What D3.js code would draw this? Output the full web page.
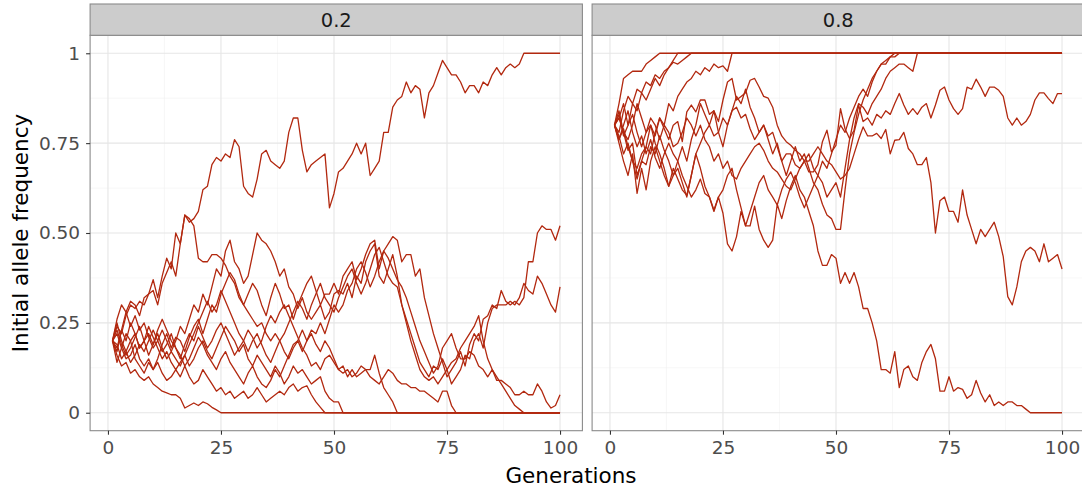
<!DOCTYPE html>
<html>
<head>
<meta charset="utf-8">
<script src="https://cdn.jsdelivr.net/npm/d3@7"></script>
<style>
  body { margin: 0; background: #ffffff; }
  text { font-family: "DejaVu Sans", sans-serif; }
</style>
</head>
<body>
<div id="chart"></div>
<script>
// Facet labels (initial allele frequency) and axis ticks
var facetLabels = ["0.2", "0.8"];
var xTicks = [0, 25, 50, 75, 100];
var xMinor = [12.5, 37.5, 62.5, 87.5];
var yTicks = [0, 0.25, 0.5, 0.75, 1];
var yTickLabels = ["0", "0.25", "0.50", "0.75", "1"];
var yMinor = [0.125, 0.375, 0.625, 0.875];

// Drift runs starting at 0.2, each point is [generation, frequency]
var run02a = [[1,.2],[2,.24],[3,.22],[4,.27],[5,.3],[6,.29],[7,.31],[8,.3],[9,.33],[10,.37],[11,.32],[12,.38],[13,.43],[14,.4],[15,.5],[16,.47],[17,.55],[18,.53],[19,.54],[20,.56],[21,.62],[22,.63],[23,.69],[24,.71],[25,.7],[26,.72],[27,.71],[28,.76],[29,.74],[30,.63],[31,.61],[32,.6],[33,.65],[34,.72],[35,.73],[36,.7],[37,.69],[38,.68],[39,.7],[40,.78],[41,.82],[42,.82],[43,.73],[44,.67],[45,.69],[46,.7],[47,.71],[48,.72],[49,.57],[50,.61],[51,.67],[52,.68],[53,.7],[54,.72],[55,.75],[56,.72],[57,.75],[58,.66],[59,.68],[60,.7],[61,.78],[62,.78],[63,.85],[64,.87],[65,.88],[66,.92],[67,.89],[68,.91],[69,.9],[70,.82],[71,.89],[72,.91],[73,.945],[74,.98],[75,.96],[76,.94],[77,.94],[78,.92],[79,.89],[80,.91],[81,.91],[82,.89],[83,.92],[84,.91],[85,.94],[86,.96],[87,.94],[88,.96],[89,.97],[90,.96],[91,.97],[92,1],[100,1]];
var run02b = [[1,.2],[2,.17],[3,.23],[4,.28],[5,.31],[6,.3],[7,.27],[8,.32],[9,.33],[10,.34],[11,.3],[12,.36],[13,.39],[14,.42],[15,.38],[16,.47],[17,.55],[18,.54],[19,.52],[20,.43],[21,.42],[22,.42],[23,.44],[24,.44],[25,.43],[26,.41],[27,.38],[28,.36],[29,.32],[30,.3],[31,.33],[32,.36],[33,.34],[34,.3],[35,.27],[36,.32],[37,.36],[38,.33],[39,.29],[40,.3],[41,.26],[42,.3],[43,.33],[44,.36],[45,.38],[46,.34],[47,.3],[48,.33],[49,.33],[50,.36],[51,.33],[52,.38],[53,.4],[54,.42],[55,.37],[56,.4],[57,.44],[58,.47],[59,.48],[60,.4],[61,.45],[62,.47],[63,.49],[64,.48],[65,.42],[66,.44],[67,.44],[68,.38],[69,.4],[70,.32],[71,.27],[72,.22],[73,.18],[74,.14],[75,.1],[76,.12],[77,.14],[78,.17],[79,.13],[80,.19],[81,.22],[82,.2],[83,.26],[84,.27],[85,.3],[86,.29],[87,.34],[88,.31],[89,.3],[90,.31],[91,.3],[92,.32],[93,.42],[94,.42],[95,.5],[96,.52],[97,.51],[98,.51],[99,.48],[100,.52]];
var run02c = [[1,.2],[2,.25],[3,.2],[4,.17],[5,.2],[6,.22],[7,.18],[8,.2],[9,.16],[10,.19],[11,.22],[12,.18],[13,.15],[14,.17],[15,.2],[16,.24],[17,.22],[18,.26],[19,.3],[20,.28],[21,.33],[22,.3],[23,.35],[24,.4],[25,.38],[26,.45],[27,.48],[28,.42],[29,.4],[30,.36],[31,.38],[32,.44],[33,.5],[34,.48],[35,.47],[36,.45],[37,.42],[38,.38],[39,.4],[40,.35],[41,.33],[42,.29],[43,.32],[44,.28],[45,.26],[46,.28],[47,.3],[48,.26],[49,.28],[50,.33],[51,.34],[52,.33],[53,.36],[54,.32],[55,.38],[56,.36],[57,.42],[58,.45],[59,.47],[60,.38],[61,.36],[62,.4],[63,.44],[64,.38],[65,.3],[66,.26],[67,.22],[68,.18],[69,.14],[70,.12],[71,.1],[72,.13],[73,.12],[74,.15],[75,.12],[76,.08],[77,.1],[78,.12],[79,.16],[80,.15],[81,.2],[82,.22],[83,.18],[84,.25],[85,.29],[86,.3],[87,.3],[88,.3],[89,.31],[90,.3],[91,.32],[92,.36],[93,.34],[94,.33],[95,.38],[96,.36],[97,.33],[98,.3],[99,.28],[100,.35]];
var run02d = [[1,.2],[2,.14],[3,.18],[4,.22],[5,.2],[6,.15],[7,.13],[8,.11],[9,.14],[10,.12],[11,.15],[12,.19],[13,.22],[14,.18],[15,.21],[16,.2],[17,.17],[18,.21],[19,.24],[20,.26],[21,.22],[22,.26],[23,.3],[24,.28],[25,.33],[26,.36],[27,.39],[28,.37],[29,.33],[30,.3],[31,.28],[32,.26],[33,.24],[34,.25],[35,.22],[36,.2],[37,.22],[38,.2],[39,.17],[40,.15],[41,.18],[42,.2],[43,.17],[44,.2],[45,.23],[46,.22],[47,.25],[48,.22],[49,.26],[50,.3],[51,.28],[52,.3],[53,.34],[54,.36],[55,.4],[56,.42],[57,.39],[58,.35],[59,.38],[60,.42],[61,.45],[62,.43],[63,.4],[64,.37],[65,.35],[66,.32],[67,.28],[68,.24],[69,.2],[70,.17],[71,.14],[72,.11],[73,.13],[74,.18],[75,.2],[76,.22],[77,.18],[78,.15],[79,.15],[80,.17],[81,.16],[82,.13],[83,.12],[84,.1],[85,.12],[86,.09],[87,.09],[88,.08],[89,.07],[90,.05],[91,.05],[92,.06],[93,.05],[94,.05],[95,.08],[96,.06],[97,.03],[98,.013],[99,.02],[100,.05]];
var run02e = [[1,.2],[2,.16],[3,.13],[4,.14],[5,.11],[6,.12],[7,.1],[8,.09],[9,.1],[10,.08],[11,.07],[12,.06],[13,.055],[14,.05],[15,.05],[16,.04],[17,.013],[18,.02],[19,.027],[20,.02],[21,.03],[22,.025],[23,.015],[24,.008],[25,0],[100,0]];
var run02f = [[1,.2],[2,.22],[3,.18],[4,.15],[5,.16],[6,.19],[7,.15],[8,.13],[9,.15],[10,.12],[11,.14],[12,.11],[13,.09],[14,.1],[15,.12],[16,.1],[17,.13],[18,.1],[19,.08],[20,.09],[21,.12],[22,.1],[23,.08],[24,.06],[25,.07],[26,.05],[27,.06],[28,.04],[29,.05],[30,.06],[31,.04],[32,.05],[33,.07],[34,.05],[35,.03],[36,.04],[37,.05],[38,.06],[39,.05],[40,.07],[41,.08],[42,.06],[43,.07],[44,.075],[45,.05],[46,.03],[47,.015],[48,0],[100,0]];
var run02g = [[1,.2],[2,.18],[3,.23],[4,.2],[5,.25],[6,.22],[7,.18],[8,.2],[9,.24],[10,.21],[11,.18],[12,.15],[13,.17],[14,.14],[15,.12],[16,.14],[17,.16],[18,.13],[19,.15],[20,.18],[21,.2],[22,.17],[23,.15],[24,.18],[25,.21],[26,.24],[27,.22],[28,.2],[29,.17],[30,.19],[31,.15],[32,.13],[33,.16],[34,.14],[35,.12],[36,.1],[37,.13],[38,.11],[39,.08],[40,.1],[41,.13],[42,.11],[43,.12],[44,.1],[45,.08],[46,.09],[47,.1],[48,.06],[49,.04],[50,.03],[51,.03],[52,0],[100,0]];
var run02h = [[1,.2],[2,.23],[3,.19],[4,.16],[5,.18],[6,.21],[7,.24],[8,.2],[9,.22],[10,.19],[11,.23],[12,.26],[13,.23],[14,.2],[15,.18],[16,.15],[17,.19],[18,.22],[19,.2],[20,.24],[21,.21],[22,.18],[23,.2],[24,.23],[25,.25],[26,.22],[27,.19],[28,.16],[29,.18],[30,.2],[31,.23],[32,.21],[33,.18],[34,.2],[35,.24],[36,.27],[37,.25],[38,.28],[39,.3],[40,.27],[41,.24],[42,.21],[43,.18],[44,.16],[45,.13],[46,.14],[47,.12],[48,.15],[49,.16],[50,.14],[51,.12],[52,.13],[53,.1],[54,.12],[55,.1],[56,.11],[57,.12],[58,.12],[59,.16],[60,.11],[61,.07],[62,.05],[63,.03],[64,0],[100,0]];
var run02i = [[1,.2],[2,.19],[3,.15],[4,.17],[5,.14],[6,.16],[7,.19],[8,.17],[9,.2],[10,.23],[11,.2],[12,.17],[13,.19],[14,.22],[15,.18],[16,.16],[17,.13],[18,.15],[19,.18],[20,.21],[21,.19],[22,.16],[23,.14],[24,.12],[25,.15],[26,.17],[27,.14],[28,.12],[29,.1],[30,.08],[31,.11],[32,.13],[33,.1],[34,.08],[35,.07],[36,.09],[37,.12],[38,.1],[39,.13],[40,.16],[41,.19],[42,.2],[43,.23],[44,.2],[45,.22],[46,.19],[47,.17],[48,.2],[49,.18],[50,.15],[51,.12],[52,.11],[53,.12],[54,.1],[55,.11],[56,.13],[57,.12],[58,.1],[59,.09],[60,.08],[61,.1],[62,.12],[63,.11],[64,.09],[65,.08],[66,.08],[67,.07],[68,.07],[69,.06],[70,.06],[71,.05],[72,.04],[73,.03],[74,.06],[75,.06],[76,.02],[77,0],[100,0]];
var run02j = [[1,.2],[2,.26],[3,.3],[4,.28],[5,.24],[6,.27],[7,.23],[8,.25],[9,.21],[10,.18],[11,.2],[12,.23],[13,.2],[14,.17],[15,.15],[16,.13],[17,.16],[18,.19],[19,.22],[20,.25],[21,.28],[22,.31],[23,.28],[24,.3],[25,.34],[26,.31],[27,.28],[28,.25],[29,.22],[30,.2],[31,.17],[32,.2],[33,.22],[34,.19],[35,.16],[36,.14],[37,.17],[38,.2],[39,.22],[40,.25],[41,.28],[42,.31],[43,.29],[44,.26],[45,.3],[46,.33],[47,.36],[48,.32],[49,.3],[50,.28],[51,.32],[52,.35],[53,.38],[54,.4],[55,.36],[56,.33],[57,.36],[58,.4],[59,.44],[60,.46],[61,.42],[62,.38],[63,.36],[64,.35],[65,.3],[66,.25],[67,.2],[68,.16],[69,.12],[70,.1],[71,.09],[72,.1],[73,.08],[74,.1],[75,.12],[76,.14],[77,.15],[78,.18],[79,.2],[80,.22],[81,.24],[82,.27],[83,.2],[84,.15],[85,.12],[86,.1],[87,.08],[88,.06],[89,.04],[90,.02],[91,.01],[92,0],[100,0]];

// Drift runs starting at 0.8
var run08a = [[1,.8],[2,.86],[3,.93],[4,.94],[5,.95],[6,.95],[7,.95],[8,.97],[9,.98],[10,.99],[11,1],[100,1]];
var run08b = [[1,.8],[2,.78],[3,.84],[4,.88],[5,.86],[6,.9],[7,.89],[8,.92],[9,.91],[10,.94],[11,.93],[12,.95],[13,.96],[14,.98],[15,1],[100,1]];
var run08c = [[1,.8],[2,.83],[3,.77],[4,.8],[5,.86],[6,.84],[7,.89],[8,.87],[9,.9],[10,.93],[11,.91],[12,.94],[13,.96],[14,.975],[15,.97],[16,.98],[17,.99],[18,1],[100,1]];
var run08d = [[1,.8],[2,.76],[3,.79],[4,.74],[5,.7],[6,.65],[7,.7],[8,.74],[9,.72],[10,.78],[11,.82],[12,.8],[13,.86],[14,.84],[15,.88],[16,.9],[17,.92],[18,.93],[19,.95],[20,.94],[21,.96],[22,.95],[23,.97],[24,.96],[25,.965],[26,.95],[27,1],[100,1]];
var run08e = [[1,.8],[2,.77],[3,.72],[4,.75],[5,.7],[6,.68],[7,.72],[8,.74],[9,.8],[10,.77],[11,.82],[12,.79],[13,.76],[14,.8],[15,.81],[16,.754],[17,.837],[18,.856],[19,.837],[20,.87],[21,.87],[22,.83],[23,.84],[24,.81],[25,.87],[26,.92],[27,.93],[28,.87],[29,.88],[30,.89],[31,.925],[32,.93],[33,.906],[34,.88],[35,.875],[36,.85],[37,.8],[38,.77],[39,.754],[40,.744],[41,.73],[42,.72],[43,.7],[44,.67],[45,.67],[46,.69],[47,.754],[48,.786],[49,.726],[50,.744],[51,.846],[52,.79],[53,.763],[54,.786],[55,.856],[56,.81],[57,.82],[58,.8],[59,.83],[60,.82],[61,.84],[62,.83],[63,.86],[64,.888],[65,.856],[66,.83],[67,.846],[68,.83],[69,.85],[70,.86],[71,.82],[72,.856],[73,.897],[74,.906],[75,.87],[76,.846],[77,.83],[78,.846],[79,.906],[80,.9],[81,.928],[82,.906],[83,.88],[84,.906],[85,.906],[86,.897],[87,.88],[88,.82],[89,.8],[90,.82],[91,.8],[92,.81],[93,.83],[94,.87],[95,.89],[96,.89],[97,.874],[98,.86],[99,.888],[100,.888]];
var run08f = [[1,.8],[2,.82],[3,.78],[4,.73],[5,.75],[6,.66],[7,.7],[8,.69],[9,.74],[10,.72],[11,.77],[12,.73],[13,.7],[14,.66],[15,.68],[16,.64],[17,.6],[18,.66],[19,.72],[20,.75],[21,.78],[22,.8],[23,.77],[24,.78],[25,.82],[26,.8],[27,.84],[28,.85],[29,.82],[30,.83],[31,.79],[32,.76],[33,.78],[34,.8],[35,.77],[36,.78],[37,.74],[38,.7],[39,.72],[40,.72],[41,.69],[42,.68],[43,.7],[44,.7],[45,.72],[46,.74],[47,.72],[48,.7],[49,.69],[50,.67],[51,.65],[52,.66],[53,.68],[54,.72],[55,.76],[56,.795],[57,.77],[58,.77],[59,.777],[60,.763],[61,.788],[62,.72],[63,.758],[64,.76],[65,.78],[66,.735],[67,.72],[68,.69],[69,.69],[70,.71],[71,.64],[72,.5],[73,.59],[74,.6],[75,.56],[76,.56],[77,.53],[78,.62],[79,.55],[80,.51],[81,.47],[82,.51],[83,.49],[84,.51],[85,.53],[86,.49],[87,.434],[88,.323],[89,.3],[90,.35],[91,.42],[92,.45],[93,.46],[94,.45],[95,.42],[96,.47],[97,.42],[98,.43],[99,.44],[100,.4]];
var run08g = [[1,.8],[2,.75],[3,.7],[4,.66],[5,.72],[6,.61],[7,.68],[8,.62],[9,.7],[10,.74],[11,.7],[12,.66],[13,.63],[14,.68],[15,.65],[16,.62],[17,.605],[18,.66],[19,.72],[20,.68],[21,.63],[22,.6],[23,.56],[24,.6],[25,.555],[26,.47],[27,.45],[28,.49],[29,.56],[30,.52],[31,.52],[32,.575],[33,.51],[34,.48],[35,.46],[36,.48],[37,.58],[38,.54],[39,.59],[40,.63],[41,.66],[42,.62],[43,.6],[44,.56],[45,.52],[46,.45],[47,.41],[48,.41],[49,.44],[50,.43],[51,.36],[52,.39],[53,.36],[54,.39],[55,.35],[56,.29],[57,.29],[58,.25],[59,.2],[60,.12],[61,.12],[62,.11],[63,.17],[64,.07],[65,.12],[66,.13],[67,.1],[68,.09],[69,.14],[70,.17],[71,.19],[72,.15],[73,.06],[74,.06],[75,.1],[76,.06],[77,.07],[78,.065],[79,.04],[80,.05],[81,.09],[82,.055],[83,.03],[84,.05],[85,.02],[86,.03],[87,.02],[88,.03],[89,.03],[90,.02],[91,.02],[92,.01],[93,0],[100,0]];
var run08h = [[1,.8],[2,.84],[3,.78],[4,.76],[5,.8],[6,.86],[7,.82],[8,.78],[9,.8],[10,.75],[11,.72],[12,.68],[13,.63],[14,.66],[15,.7],[16,.74],[17,.7],[18,.76],[19,.8],[20,.86],[21,.83],[22,.8],[23,.84],[24,.78],[25,.74],[26,.8],[27,.84],[28,.88],[29,.86],[30,.9],[31,.85],[32,.82],[33,.78],[34,.8],[35,.76],[36,.72],[37,.75],[38,.7],[39,.66],[40,.7],[41,.74],[42,.7],[43,.72],[44,.68],[45,.64],[46,.62],[47,.58],[48,.55],[49,.54],[50,.51],[51,.51],[52,.62],[53,.72],[54,.78],[55,.83],[56,.87],[57,.9],[58,.93],[59,.95],[60,.97],[61,.97],[62,.99],[63,1],[100,1]];
var run08i = [[1,.8],[2,.76],[3,.8],[4,.84],[5,.78],[6,.74],[7,.77],[8,.72],[9,.76],[10,.71],[11,.68],[12,.72],[13,.75],[14,.72],[15,.7],[16,.66],[17,.63],[18,.6],[19,.62],[20,.65],[21,.61],[22,.6],[23,.564],[24,.6],[25,.62],[26,.66],[27,.68],[28,.62],[29,.57],[30,.52],[31,.56],[32,.6],[33,.64],[34,.66],[35,.62],[36,.6],[37,.578],[38,.62],[39,.65],[40,.67],[41,.64],[42,.6],[43,.57],[44,.6],[45,.63],[46,.66],[47,.7],[48,.68],[49,.72],[50,.76],[51,.8],[52,.78],[53,.82],[54,.85],[55,.88],[56,.9],[57,.88],[58,.92],[59,.95],[60,.97],[61,.98],[62,.99],[63,.99],[64,1],[100,1]];
var run08j = [[1,.8],[2,.82],[3,.86],[4,.8],[5,.83],[6,.78],[7,.74],[8,.78],[9,.82],[10,.8],[11,.76],[12,.8],[13,.78],[14,.74],[15,.75],[16,.78],[17,.82],[18,.8],[19,.77],[20,.8],[21,.76],[22,.74],[23,.7],[24,.72],[25,.68],[26,.7],[27,.66],[28,.65],[29,.68],[30,.7],[31,.72],[32,.74],[33,.75],[34,.73],[35,.7],[36,.68],[37,.67],[38,.65],[39,.63],[40,.62],[41,.65],[42,.68],[43,.7],[44,.72],[45,.68],[46,.66],[47,.64],[48,.6],[49,.62],[50,.64],[51,.6],[52,.68],[53,.76],[54,.82],[55,.86],[56,.85],[57,.83],[58,.86],[59,.88],[60,.9],[61,.93],[62,.95],[63,.96],[64,.97],[65,.97],[66,.96],[67,.95],[68,1],[100,1]];

var runs02 = [run02a, run02b, run02c, run02d, run02e, run02f, run02g, run02h, run02i, run02j];
var runs08 = [run08a, run08b, run08c, run08d, run08e, run08f, run08g, run08h, run08i, run08j];
var facetRuns = [runs02, runs08];

// SVG area and panel geometry
var svgWidth = 1082;
var svgHeight = 491;
var stripTop = 4;
var panelTop = 35.3;
var panelHeight = 395.4;
var panelWidth = 492.3;
var panelLefts = [90.1, 592.1];
var lineColor = "#b2280f";

var svg = d3.select("#chart")
    .append("svg")
    .attr("width", svgWidth)
    .attr("height", svgHeight)
    .style("display", "block");

svg.append("rect")
    .attr("width", svgWidth)
    .attr("height", svgHeight)
    .attr("fill", "#ffffff");

// Scales (ggplot style 5% expansion around 1..100 and 0..1)
var xScale = d3.scaleLinear()
    .domain([1 - 4.95, 100 + 4.95])
    .range([0, panelWidth]);

var yScale = d3.scaleLinear()
    .domain([-0.05, 1.05])
    .range([panelHeight, 0]);

var drawLine = d3.line()
    .x(d => xScale(d[0]))
    .y(d => yScale(d[1]));

facetLabels.forEach(function(label, i) {
    var panel = svg.append("g")
        .attr("transform", `translate(${panelLefts[i]}, ${panelTop})`);

    // minor grid
    panel.selectAll(".xminor")
        .data(xMinor)
        .enter()
        .append("line")
        .attr("x1", d => xScale(d)).attr("x2", d => xScale(d))
        .attr("y1", 0).attr("y2", panelHeight)
        .attr("stroke", "#f2f2f2")
        .attr("stroke-width", 0.6);
    panel.selectAll(".yminor")
        .data(yMinor)
        .enter()
        .append("line")
        .attr("x1", 0).attr("x2", panelWidth)
        .attr("y1", d => yScale(d)).attr("y2", d => yScale(d))
        .attr("stroke", "#f2f2f2")
        .attr("stroke-width", 0.6);

    // major grid
    panel.selectAll(".xmajor")
        .data(xTicks)
        .enter()
        .append("line")
        .attr("x1", d => xScale(d)).attr("x2", d => xScale(d))
        .attr("y1", 0).attr("y2", panelHeight)
        .attr("stroke", "#e6e6e6")
        .attr("stroke-width", 1.1);
    panel.selectAll(".ymajor")
        .data(yTicks)
        .enter()
        .append("line")
        .attr("x1", 0).attr("x2", panelWidth)
        .attr("y1", d => yScale(d)).attr("y2", d => yScale(d))
        .attr("stroke", "#e6e6e6")
        .attr("stroke-width", 1.1);

    // the drift runs
    panel.selectAll(".run")
        .data(facetRuns[i])
        .enter()
        .append("path")
        .attr("d", drawLine)
        .attr("fill", "none")
        .attr("stroke", lineColor)
        .attr("stroke-width", 1.3)
        .attr("stroke-linejoin", "round");

    // panel border
    panel.append("rect")
        .attr("width", panelWidth)
        .attr("height", panelHeight)
        .attr("fill", "none")
        .attr("stroke", "#8a8a8a")
        .attr("stroke-width", 1.1);

    // strip with facet label
    svg.append("rect")
        .attr("x", panelLefts[i])
        .attr("y", stripTop)
        .attr("width", panelWidth)
        .attr("height", panelTop - stripTop)
        .attr("fill", "#cccccc")
        .attr("stroke", "#8a8a8a")
        .attr("stroke-width", 1.1);
    svg.append("text")
        .attr("x", panelLefts[i] + panelWidth / 2)
        .attr("y", (stripTop + panelTop) / 2)
        .attr("dy", "0.36em")
        .attr("text-anchor", "middle")
        .attr("font-size", "19.5px")
        .attr("fill", "#1a1a1a")
        .text(label);

    // bottom axis
    var bottomAxis = d3.axisBottom(xScale)
        .tickValues(xTicks)
        .tickSize(4)
        .tickPadding(6);
    var xAxisGroup = panel.append("g")
        .attr("transform", `translate(0, ${panelHeight})`)
        .call(bottomAxis);
    xAxisGroup.select(".domain").remove();
    xAxisGroup.selectAll("line").attr("stroke", "#333333").attr("stroke-width", 1.1);
    xAxisGroup.selectAll("text")
        .attr("font-size", "18.5px")
        .attr("font-family", "DejaVu Sans, sans-serif")
        .attr("fill", "#4d4d4d");

    // left axis only on the first panel
    if (i === 0) {
        var leftAxis = d3.axisLeft(yScale)
            .tickValues(yTicks)
            .tickFormat((d, k) => yTickLabels[k])
            .tickSize(4)
            .tickPadding(6);
        var yAxisGroup = panel.append("g").call(leftAxis);
        yAxisGroup.select(".domain").remove();
        yAxisGroup.selectAll("line").attr("stroke", "#333333").attr("stroke-width", 1.1);
        yAxisGroup.selectAll("text")
            .attr("font-size", "18.5px")
            .attr("font-family", "DejaVu Sans, sans-serif")
            .attr("fill", "#4d4d4d");
    }
});

// axis titles
svg.append("text")
    .attr("x", 571)
    .attr("y", 483)
    .attr("text-anchor", "middle")
    .attr("font-size", "21.5px")
    .attr("fill", "#000000")
    .text("Generations");

svg.append("text")
    .attr("transform", `translate(28, ${panelTop + panelHeight / 2}) rotate(-90)`)
    .attr("text-anchor", "middle")
    .attr("font-size", "21.5px")
    .attr("fill", "#000000")
    .text("Initial allele frequency");
</script>
</body>
</html>
